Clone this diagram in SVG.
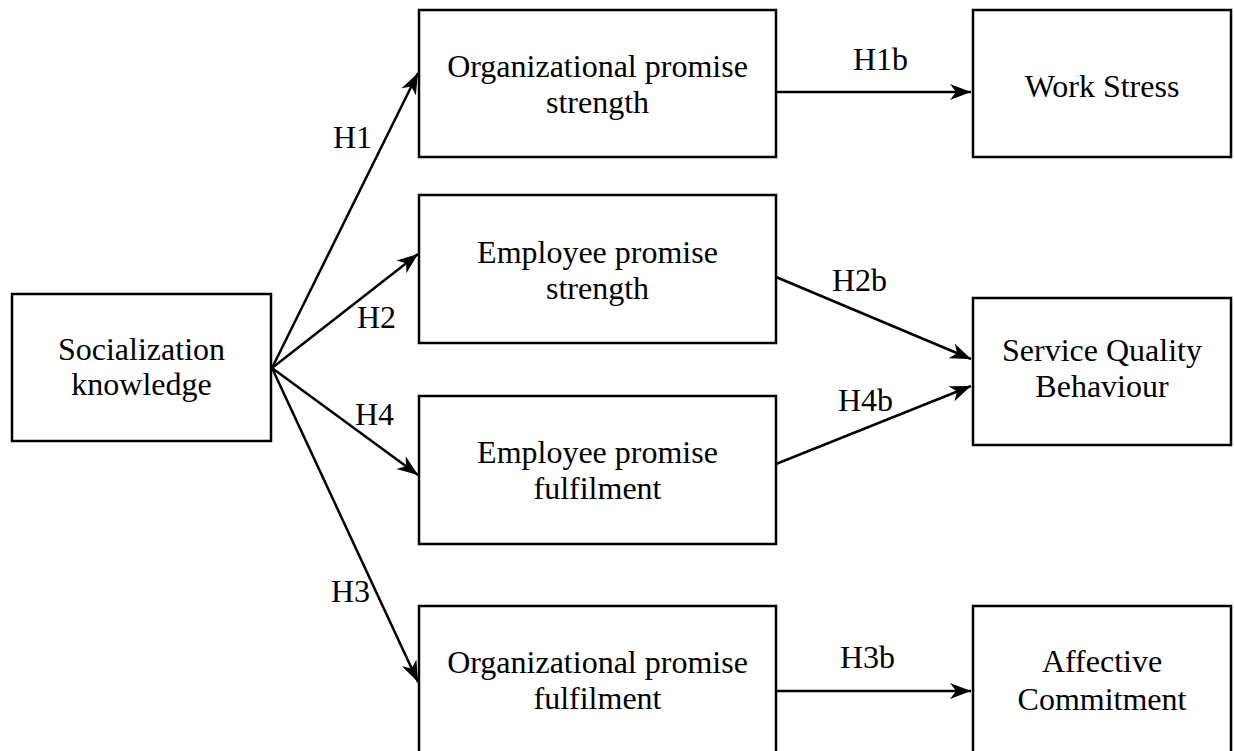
<svg xmlns="http://www.w3.org/2000/svg" width="1234" height="751" viewBox="0 0 1234 751">
<defs>
<marker id="ah" markerUnits="userSpaceOnUse" markerWidth="24" markerHeight="18" viewBox="-22 -9 24 18" refX="0" refY="0" orient="auto">
<path d="M0,0 L-21,-8 L-15,0 L-21,8 z" fill="#000"/>
</marker>
<style>
.box{fill:#fff;stroke:#000;stroke-width:2.5}
text{font-family:"Liberation Serif","Times New Roman",serif;font-size:32px;fill:#000}
.c{text-anchor:middle}
line{stroke:#000;stroke-width:2.5;marker-end:url(#ah)}
</style>
</defs>
<rect width="1234" height="751" fill="#fff"/>
<g id="connectors">
<line x1="272" y1="368" x2="418" y2="73"/>
<line x1="272" y1="368" x2="418" y2="254"/>
<line x1="272" y1="368" x2="418" y2="475"/>
<line x1="272" y1="368" x2="418" y2="682"/>
<line x1="776" y1="92" x2="971" y2="92"/>
<line x1="776" y1="277" x2="971" y2="359"/>
<line x1="776" y1="464" x2="971" y2="386"/>
<line x1="776" y1="691" x2="971" y2="691"/>
<text x="333" y="148">H1</text>
<text x="357" y="328">H2</text>
<text x="355" y="425">H4</text>
<text x="331" y="602">H3</text>
<text x="853" y="70">H1b</text>
<text x="832" y="291">H2b</text>
<text x="838" y="411">H4b</text>
<text x="840" y="668">H3b</text>
</g>
<g id="socialization">
<rect class="box" x="12" y="294" width="259" height="147"/>
<text class="c" x="141.5" y="360">Socialization</text>
<text class="c" x="141.5" y="395">knowledge</text>
</g>
<g id="org-strength">
<rect class="box" x="419" y="10" width="357" height="147"/>
<text class="c" x="597.5" y="77">Organizational promise</text>
<text class="c" x="597.5" y="113">strength</text>
</g>
<g id="emp-strength">
<rect class="box" x="419" y="195" width="357" height="148"/>
<text class="c" x="597.5" y="263">Employee promise</text>
<text class="c" x="597.5" y="299">strength</text>
</g>
<g id="emp-fulfilment">
<rect class="box" x="419" y="396" width="357" height="148"/>
<text class="c" x="597.5" y="463">Employee promise</text>
<text class="c" x="597.5" y="499">fulfilment</text>
</g>
<g id="org-fulfilment">
<rect class="box" x="419" y="606" width="357" height="150"/>
<text class="c" x="597.5" y="673">Organizational promise</text>
<text class="c" x="597.5" y="709">fulfilment</text>
</g>
<g id="work-stress">
<rect class="box" x="973" y="10" width="258" height="147"/>
<text class="c" x="1102" y="97">Work Stress</text>
</g>
<g id="service-quality">
<rect class="box" x="973" y="298" width="258" height="147"/>
<text class="c" x="1102" y="361">Service Quality</text>
<text class="c" x="1102" y="397">Behaviour</text>
</g>
<g id="affective">
<rect class="box" x="973" y="606" width="258" height="150"/>
<text class="c" x="1102" y="672">Affective</text>
<text class="c" x="1102" y="710">Commitment</text>
</g>
</svg>
